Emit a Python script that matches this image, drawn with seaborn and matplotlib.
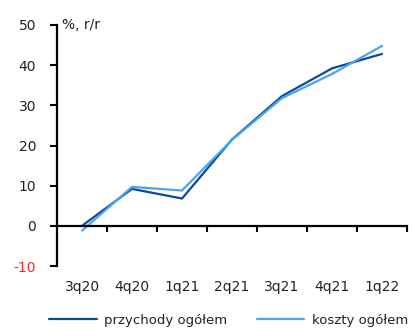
import numpy as np
import pandas as pd
import matplotlib
matplotlib.use("Agg")
import matplotlib.pyplot as plt
import seaborn as sns

quarters = ["3q20", "4q20", "1q21", "2q21", "3q21", "4q21", "1q22"]
revenue = [0.0, 9.2, 6.8, 21.5, 32.3, 39.2, 42.8]
costs = [-1.2, 9.7, 8.8, 21.4, 31.8, 37.8, 44.8]
series_names = ["przychody ogółem", "koszty ogółem"]
y_ticks = [-10, 0, 10, 20, 30, 40, 50]

sns.set_theme(style="white")
plt.rcParams["font.family"] = ["DejaVu Sans"]

df = pd.DataFrame({
    "q": list(range(len(quarters))) * 2,
    "val": revenue + costs,
    "series": [series_names[0]] * len(quarters) + [series_names[1]] * len(quarters),
})

fig = plt.figure(figsize=(4.12, 3.31), dpi=100)
ax = fig.add_axes([57 / 412, 65 / 331, 350 / 412, 241 / 331])

sns.lineplot(data=df, x="q", y="val", hue="series",
             palette=["#0d4a94", "#4aa3f4"], linewidth=1.6,
             ax=ax, legend=True)

ax.set_xlim(-0.5, len(quarters) - 0.5)
ax.set_ylim(-10, 50)
ax.set_xlabel("")
ax.set_ylabel("")

for s in ["top", "right"]:
    ax.spines[s].set_visible(False)
ax.spines["left"].set_color("black")
ax.spines["left"].set_linewidth(1.6)
ax.spines["bottom"].set_position(("data", 0))
ax.spines["bottom"].set_color("black")
ax.spines["bottom"].set_linewidth(1.6)

# boundaries between quarters carry the tick marks, centres carry the labels
ax.set_xticks(np.arange(0.5, len(quarters) - 0.4, 1.0))
ax.set_xticklabels([])
ax.set_xticks(np.arange(len(quarters)), minor=True)
ax.set_xticklabels(quarters, minor=True)
ax.tick_params(axis="x", which="major", direction="out", length=4, width=1.5,
               color="black", bottom=True)
ax.tick_params(axis="x", which="minor", length=0, pad=39, labelsize=10,
               labelcolor="#222222", bottom=True)

ax.set_yticks(y_ticks)
ax.set_yticklabels([str(v) for v in y_ticks])
ax.tick_params(axis="y", direction="out", length=5, width=1.5, color="black",
               left=True, labelsize=10, labelcolor="#222222", pad=10)
for lab in ax.get_yticklabels():
    if lab.get_text().startswith("-"):
        lab.set_color("#ff2020")

ax.text(0.015, 1.0, "%, r/r", transform=ax.transAxes, fontsize=10,
        color="#222222", ha="left", va="center")

handles, labels = ax.get_legend_handles_labels()
ax.get_legend().remove()
fig.legend(handles, labels, loc="center", bbox_to_anchor=(0.555, 0.032),
           ncol=2, frameon=False, fontsize=9.5, handlelength=3.6,
           handletextpad=0.6, columnspacing=2.2, labelcolor="#222222",
           borderpad=0.0)

fig.savefig("out.png", dpi=100)
